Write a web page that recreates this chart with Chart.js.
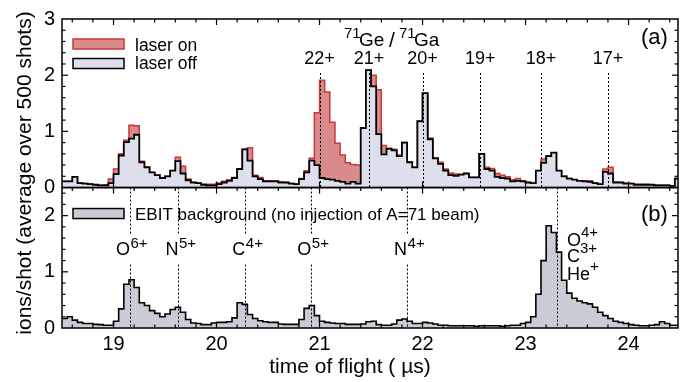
<!DOCTYPE html>
<html>
<head>
<meta charset="utf-8">
<script src="https://cdn.jsdelivr.net/npm/chart.js@4.4.1/dist/chart.umd.min.js"></script>
<style>
  html, body { margin: 0; padding: 0; background: #fff; }
</style>
</head>
<body>
<canvas id="chart" width="686" height="382"></canvas>
<script>
// bin edges of the time-of-flight histogram (µs)
const binEdges = [
  18.50, 18.55, 18.60, 18.65, 18.70, 18.75, 18.80, 18.85, 18.90, 18.95,
  19.00, 19.05, 19.10, 19.15, 19.20, 19.25, 19.30, 19.35, 19.40, 19.45,
  19.50, 19.55, 19.60, 19.65, 19.70, 19.75, 19.80, 19.85, 19.90, 19.95,
  20.00, 20.05, 20.10, 20.15, 20.20, 20.25, 20.30, 20.35, 20.40, 20.45,
  20.50, 20.55, 20.60, 20.65, 20.70, 20.75, 20.80, 20.85, 20.90, 20.95,
  21.00, 21.05, 21.10, 21.15, 21.20, 21.25, 21.30, 21.35, 21.40, 21.45,
  21.50, 21.55, 21.60, 21.65, 21.70, 21.75, 21.80, 21.85, 21.90, 21.95,
  22.00, 22.05, 22.10, 22.15, 22.20, 22.25, 22.30, 22.35, 22.40, 22.45,
  22.50, 22.55, 22.60, 22.65, 22.70, 22.75, 22.80, 22.85, 22.90, 22.95,
  23.00, 23.05, 23.10, 23.15, 23.20, 23.25, 23.30, 23.35, 23.40, 23.45,
  23.50, 23.55, 23.60, 23.65, 23.70, 23.75, 23.80, 23.85, 23.90, 23.95,
  24.00, 24.05, 24.10, 24.15, 24.20, 24.25, 24.30, 24.35, 24.40, 24.45,
  24.50
];

// panel (a): ions/shot per bin
const laserOff = [
  0.11, 0.11, 0.19, 0.08, 0.07, 0.06, 0.05, 0.04, 0.04, 0.08,
  0.24, 0.57, 0.81, 0.87, 0.94, 0.45, 0.36, 0.27, 0.22, 0.17,
  0.20, 0.30, 0.47, 0.25, 0.13, 0.09, 0.08, 0.05, 0.04, 0.04,
  0.06, 0.09, 0.12, 0.17, 0.33, 0.68, 0.48, 0.20, 0.15, 0.11,
  0.11, 0.11, 0.09, 0.09, 0.07, 0.06, 0.15, 0.27, 0.48, 0.40,
  0.17, 0.15, 0.14, 0.12, 0.10, 0.07, 0.10, 0.07, 1.06, 2.09,
  1.80, 0.95, 0.59, 0.69, 0.66, 0.56, 0.80, 0.45, 0.36, 1.18,
  1.68, 0.86, 0.52, 0.42, 0.30, 0.22, 0.21, 0.23, 0.25, 0.18,
  0.18, 0.60, 0.33, 0.30, 0.19, 0.17, 0.16, 0.11, 0.12, 0.11,
  0.09, 0.08, 0.30, 0.44, 0.56, 0.62, 0.30, 0.20, 0.16, 0.14,
  0.12, 0.11, 0.10, 0.08, 0.06, 0.28, 0.25, 0.09, 0.09, 0.07,
  0.07, 0.05, 0.05, 0.05, 0.05, 0.04, 0.04, 0.04, 0.03, 0.16
];
const laserOn = [
  0.11, 0.11, 0.19, 0.08, 0.07, 0.06, 0.05, 0.04, 0.05, 0.15,
  0.33, 0.60, 0.84, 1.11, 1.10, 0.47, 0.37, 0.27, 0.22, 0.17,
  0.20, 0.30, 0.54, 0.38, 0.15, 0.09, 0.08, 0.06, 0.06, 0.06,
  0.08, 0.11, 0.14, 0.18, 0.33, 0.68, 0.71, 0.22, 0.18, 0.12,
  0.12, 0.12, 0.10, 0.09, 0.07, 0.06, 0.16, 0.30, 0.52, 1.33,
  1.91, 1.70, 1.16, 0.79, 0.58, 0.44, 0.41, 0.40, 1.06, 2.09,
  2.00, 1.74, 0.75, 0.70, 0.68, 0.58, 0.80, 0.45, 0.36, 1.18,
  1.68, 0.88, 0.53, 0.45, 0.33, 0.26, 0.24, 0.23, 0.25, 0.18,
  0.18, 0.60, 0.36, 0.34, 0.25, 0.22, 0.19, 0.14, 0.16, 0.12,
  0.09, 0.08, 0.30, 0.51, 0.56, 0.62, 0.30, 0.20, 0.16, 0.14,
  0.12, 0.12, 0.12, 0.08, 0.06, 0.33, 0.36, 0.10, 0.09, 0.08,
  0.07, 0.06, 0.06, 0.06, 0.05, 0.04, 0.04, 0.04, 0.03, 0.16
];
// panel (b): EBIT background
const ebitBackground = [
  0.17, 0.20, 0.14, 0.10, 0.08, 0.08, 0.065, 0.06, 0.05, 0.05,
  0.12, 0.34, 0.78, 0.86, 0.72, 0.45, 0.40, 0.31, 0.26, 0.20,
  0.25, 0.33, 0.37, 0.28, 0.15, 0.09, 0.08, 0.06, 0.06, 0.09,
  0.10, 0.10, 0.11, 0.18, 0.45, 0.42, 0.24, 0.17, 0.13, 0.11,
  0.10, 0.10, 0.07, 0.065, 0.065, 0.065, 0.15, 0.35, 0.40, 0.22,
  0.12, 0.10, 0.09, 0.08, 0.08, 0.065, 0.065, 0.065, 0.07, 0.11,
  0.12, 0.06, 0.05, 0.05, 0.07, 0.14, 0.16, 0.12, 0.08, 0.08,
  0.10, 0.09, 0.07, 0.05, 0.05, 0.04, 0.04, 0.04, 0.04, 0.04,
  0.03, 0.04, 0.04, 0.04, 0.04, 0.03, 0.04, 0.05, 0.05, 0.08,
  0.10, 0.20, 0.60, 1.20, 1.82, 1.70, 1.35, 0.85, 0.62, 0.53,
  0.48, 0.45, 0.43, 0.37, 0.28, 0.22, 0.17, 0.12, 0.10, 0.08,
  0.06, 0.05, 0.04, 0.04, 0.05, 0.06, 0.11, 0.08, 0.05, 0.05
];

// tick labels
const xTickValues = [19, 20, 21, 22, 23, 24];
const yTickValuesA = [0, 1, 2, 3];
const yTickValuesB = [0, 1, 2];

// charge-state markers
const aMarkTimes = [21.00, 21.48, 22.00, 22.56, 23.15, 23.80];
const aMarkLabels = ['22+', '21+', '20+', '19+', '18+', '17+'];
const bMarkTimes = [19.16, 19.63, 20.28, 20.92, 21.85, 23.31];
const bMarkIons = ['O', 'N', 'C', 'O', 'N'];
const bMarkCharges = ['6+', '5+', '4+', '5+', '4+'];
const bLastIons = [['O', '4+'], ['C', '3+'], ['He', '+']];

const FONT = '"Liberation Sans", Arial, Helvetica, sans-serif';
Chart.defaults.font.family = FONT;
Chart.defaults.color = '#000';

// histogram -> points for a step line (value holds until next edge)
function toSteps(values) {
  const pts = values.map((v, i) => ({ x: binEdges[i], y: v }));
  pts.push({ x: binEdges[values.length], y: values[values.length - 1] });
  return pts;
}

function seg(ctx, x1, y1, x2, y2) {
  ctx.beginPath();
  ctx.moveTo(x1, y1);
  ctx.lineTo(x2, y2);
  ctx.stroke();
}

function text(ctx, s, x, y, size, align) {
  ctx.font = size + 'px ' + FONT;
  ctx.textAlign = align || 'left';
  ctx.textBaseline = 'alphabetic';
  ctx.fillText(s, x, y);
}

// frames, inward ticks, markers, labels, legend, axis titles
const panelDecor = {
  id: 'panelDecor',
  afterDatasetsDraw(chart) {
    const ctx = chart.ctx;
    const x = chart.scales.x, ya = chart.scales.ya, yb = chart.scales.yb;
    const L = chart.chartArea.left, R = chart.chartArea.right;
    ctx.save();
    ctx.fillStyle = '#000';
    ctx.strokeStyle = '#000';

    // dotted marker lines
    ctx.lineWidth = 1;
    ctx.setLineDash([2, 2]);
    aMarkTimes.forEach(t => {
      const px = Math.round(x.getPixelForValue(t)) + 0.5;
      seg(ctx, px, ya.top + 54, px, ya.bottom);
    });
    bMarkTimes.forEach((t, i) => {
      const px = Math.round(x.getPixelForValue(t)) + 0.5;
      if (i === bMarkTimes.length - 1) {
        seg(ctx, px, yb.top, px, yb.bottom);
      } else {
        seg(ctx, px, yb.top, px, yb.top + 46);
        seg(ctx, px, yb.top + 77, px, yb.bottom);
      }
    });
    ctx.setLineDash([]);

    // frames + ticks
    [[ya, 3, 0], [yb, 2.5, 1]].forEach(([ys, top, p]) => {
      ctx.lineWidth = 1.2;
      for (let k = 93; k <= 122; k++) {   // every 0.2 µs
        const px = x.getPixelForValue(k / 5);
        const major = k % 5 === 0;
        const len = major ? 6 : 3.5;
        seg(ctx, px, ys.top, px, ys.top + len);
        if (p === 1 || major) seg(ctx, px, ys.bottom, px, ys.bottom - len);
      }
      for (let k = 1; k * 0.2 < top - 1e-6; k++) {
        const py = ys.getPixelForValue(k * 0.2);
        const len = k % 5 === 0 ? 6 : 3.5;
        seg(ctx, L, py, L + len, py);
        seg(ctx, R, py, R - len, py);
      }
      ctx.lineWidth = 1.5;
      ctx.strokeRect(L, ys.top, R - L, ys.bottom - ys.top);
    });

    // panel (a) labels
    aMarkTimes.forEach((t, i) => text(ctx, aMarkLabels[i], x.getPixelForValue(t), ya.top + 45, 18, 'center'));
    text(ctx, '71', 344, ya.top + 19, 15);
    text(ctx, 'Ge', 359, ya.top + 27, 19);
    text(ctx, '/', 389, ya.top + 28, 21);
    text(ctx, '71', 399, ya.top + 19, 15);
    text(ctx, 'Ga', 414, ya.top + 27, 19);
    text(ctx, '(a)', 641, ya.top + 25, 22);

    // panel (b) labels
    bMarkIons.forEach((ion, i) => {
      const px = x.getPixelForValue(bMarkTimes[i]);
      text(ctx, ion, px, yb.top + 67, 18, 'right');
      text(ctx, bMarkCharges[i], px + 0.5, yb.top + 60, 15);
    });
    const ox = 567;
    bLastIons.forEach(([ion, q], i) => {
      const base = yb.top + [58, 74, 92][i];
      text(ctx, ion, ox, base, 18);
      ctx.font = '18px ' + FONT;
      const w = ctx.measureText(ion).width;
      text(ctx, q, ox + w, base - 9, 15);
    });
    text(ctx, '(b)', 641, yb.top + 33, 22);

    // legends
    const box = (y0, fill, stroke) => {
      ctx.fillStyle = fill;
      ctx.fillRect(73, y0, 51, 10);
      ctx.strokeStyle = stroke;
      ctx.lineWidth = 1.5;
      ctx.strokeRect(73, y0, 51, 10);
      ctx.fillStyle = '#000';
    };
    box(ya.top + 20, '#d98a8a', '#c8383c');
    text(ctx, 'laser on', 135, ya.top + 32, 17.5);
    box(ya.top + 39.5, '#dddfec', '#000');
    text(ctx, 'laser off', 135, ya.top + 49.5, 17.5);
    box(yb.top + 21, '#c9ccd5', '#000');
    text(ctx, 'EBIT background (no injection of A=71 beam)', 135, yb.top + 32, 17);

    // axis titles
    text(ctx, 'time of flight ( \u00b5s)', 350, 373, 21, 'center');
    ctx.translate(31, 173);
    ctx.rotate(-Math.PI / 2);
    text(ctx, 'ions/shot (average over 500 shots)', 0, 0, 21, 'center');
    ctx.restore();
  }
};

const yAxis = (ticksList, max, weight) => ({
  type: 'linear',
  position: 'left',
  stack: 'panels',
  stackWeight: weight,
  offset: false,
  min: 0,
  max: max,
  grid: { display: false, drawTicks: false },
  border: { display: false },
  ticks: { font: { size: 20 }, color: '#000', padding: 7 },
  afterBuildTicks: s => { s.ticks = ticksList.map(v => ({ value: v })); },
  afterFit: s => { s.width = 62; }
});

new Chart(document.getElementById('chart').getContext('2d'), {
  type: 'line',
  data: {
    datasets: [
      {
        label: 'laser off',
        data: toSteps(laserOff),
        yAxisID: 'ya',
        stepped: 'before',
        fill: 'origin',
        backgroundColor: '#dddfec',
        borderColor: '#000',
        borderWidth: 1.8
      },
      {
        label: 'laser on',
        data: toSteps(laserOn),
        yAxisID: 'ya',
        stepped: 'before',
        fill: 'origin',
        backgroundColor: '#d98a8a',
        borderColor: '#c8383c',
        borderWidth: 1.5
      },
      {
        label: 'EBIT background',
        data: toSteps(ebitBackground),
        yAxisID: 'yb',
        stepped: 'before',
        fill: 'origin',
        backgroundColor: '#c9ccd5',
        borderColor: '#000',
        borderWidth: 1.6
      }
    ]
  },
  options: {
    responsive: false,
    animation: false,
    events: [],
    layout: { padding: { top: 13, right: 8, left: 0, bottom: 0 } },
    elements: { point: { radius: 0 } },
    plugins: { legend: { display: false }, tooltip: { enabled: false } },
    scales: {
      x: {
        type: 'linear',
        min: 18.5,
        max: 24.48,
        grid: { display: false, drawTicks: false },
        border: { display: false },
        ticks: { font: { size: 20 }, color: '#000', padding: 4, maxRotation: 0, autoSkip: false },
        afterBuildTicks: s => { s.ticks = xTickValues.map(v => ({ value: v })); },
        afterFit: s => { s.height = 54; }
      },
      yb: yAxis(yTickValuesB, 2.5, 2.5),
      ya: yAxis(yTickValuesA, 3, 3)
    }
  },
  plugins: [panelDecor]
});
</script>
</body>
</html>
